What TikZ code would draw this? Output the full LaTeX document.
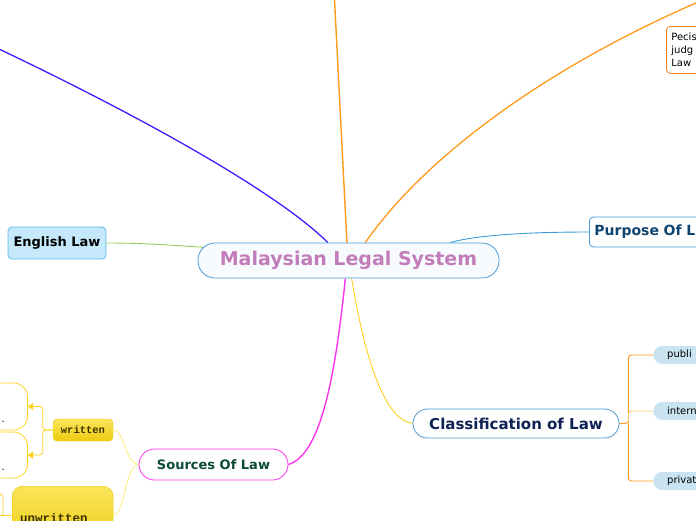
\documentclass[tikz,border=0pt]{standalone}
\usepackage{fontspec}
\setmainfont{DejaVu Sans}
\newfontfamily\slab{Liberation Mono}
\usepackage{xcolor}
\usetikzlibrary{arrows.meta,positioning,calc,backgrounds}
\definecolor{hubblue}{RGB}{74,154,212}
\definecolor{hubfill}{RGB}{248,251,254}
\definecolor{hubtext}{RGB}{194,124,186}
\definecolor{engfill}{RGB}{197,232,250}
\definecolor{engline}{RGB}{92,188,235}
\definecolor{purptext}{RGB}{14,68,112}
\definecolor{clstext}{RGB}{15,34,84}
\definecolor{srctext}{RGB}{12,74,60}
\definecolor{srcline}{RGB}{255,51,238}
\definecolor{linkorange}{RGB}{255,154,26}
\definecolor{boxorange}{RGB}{245,130,31}
\definecolor{paleorange}{RGB}{255,200,112}
\definecolor{leaffill}{RGB}{201,228,240}
\definecolor{ygold}{RGB}{255,210,26}
\definecolor{ypale}{RGB}{255,236,122}
\definecolor{ytop}{RGB}{250,229,90}
\definecolor{ybot}{RGB}{236,203,16}
\definecolor{ytext}{RGB}{61,51,0}
\definecolor{linkblue}{RGB}{58,31,255}
\definecolor{linkgreen}{RGB}{156,200,90}
\definecolor{linksky}{RGB}{58,154,217}

\begin{document}
\begin{tikzpicture}[x=1pt,y=-1pt,>=Stealth]
  \tikzstyle{hub}=[draw=hubblue,thick,fill=hubfill,rounded corners=17pt,minimum width=301pt,minimum height=35pt,inner sep=0pt,font=\fontsize{19}{22}\selectfont\bfseries,text=hubtext]
  \tikzstyle{topic}=[draw=hubblue,thick,fill=white,inner sep=0pt,font=\fontsize{13}{15}\selectfont\bfseries]
  \tikzstyle{leaf}=[fill=leaffill,rounded corners=9pt,minimum height=18pt,text width=60pt,inner xsep=14pt,inner ysep=0pt,align=left,anchor=west,font=\fontsize{10}{12}\selectfont]
  \tikzstyle{ybox}=[draw=ybot,top color=ytop,bottom color=ybot,rounded corners=4pt,inner sep=0pt,text=ytext,font=\slab\bfseries]
  \tikzstyle{wleaf}=[draw=ygold,thick,rounded corners=14pt,minimum width=80pt,anchor=east]
  \tikzstyle{ylink}=[ygold,thick,rounded corners=3pt]
  \useasboundingbox (0,0) rectangle (696,520);
  \clip (0,0) rectangle (696,520);

  % central topic
  \node[hub] (mls) at (348.5,260.5) {Malaysian Legal System};

  % main topics
  \node[topic,fill=engfill,draw=engline,rounded corners=4pt,minimum width=98pt,minimum height=32pt] (eng) at (57,243) {English Law};
  \node[topic,anchor=west,text=purptext,rounded corners=4pt,text width=120pt,inner xsep=5pt,align=left,minimum height=30pt,font=\fontsize{14}{16}\selectfont\bfseries] (purp) at (589,232) {Purpose Of L};
  \node[topic,text=clstext,rounded corners=14.5pt,minimum width=206pt,minimum height=29pt,font=\fontsize{15}{17}\selectfont\bfseries] (cls) at (516,423.5) {Classification of Law};
  \node[topic,draw=srcline,text=srctext,rounded corners=15.5pt,minimum width=149pt,minimum height=31pt] (src) at (213.5,464.5) {Sources Of Law};
  \node[draw=boxorange,thick,fill=white,rounded corners=4pt,anchor=north west,text width=50pt,inner xsep=5pt,inner ysep=4pt,minimum height=47pt,align=left,font=\fontsize{10}{13}\selectfont] (pec) at (666,26) {Pecis\\judg\\Law};

  % classification
  \node[leaf] (pub) at (653,355) {publi};
  \node[leaf] (int) at (653,411) {intern};
  \node[leaf] (pri) at (653,481) {privat};

  % sources
  \node[ybox,minimum width=60pt,minimum height=22pt,font=\fontsize{10.5}{12}\selectfont\slab\bfseries] (wr) at (83,430) {written};
  \node[ybox,anchor=north west,rounded corners=10pt,minimum width=101pt,minimum height=64pt,text width=85pt,inner xsep=8pt,align=left,font=\fontsize{12.5}{14}\selectfont\slab\bfseries] (uw) at (12,486) {unwritten};
  \node[wleaf,minimum height=47pt] (w1) at (28,406.5) {};
  \node[wleaf,minimum height=46pt] (w2) at (28,455) {};
  \node[anchor=base east,inner sep=0pt,font=\fontsize{10}{12}\selectfont] (w1txt) at ($(w1.south east)+(-23,-8)$) {.};
  \node[anchor=base east,inner sep=0pt,font=\fontsize{10}{12}\selectfont] (w2txt) at ($(w2.south east)+(-23,-8)$) {.};

  \coordinate (uwe) at ($(uw.north east)+(0,29)$);
  \coordinate (uww) at ($(uw.north west)+(0,29)$);
  \coordinate (ubr) at ($(uw.north west)+(-9,29)$);
  \coordinate (uwk) at (-10,494);
  \coordinate (uwo) at (-10,515);
  \coordinate (far1) at (-20,40);
  \coordinate (far2) at (334,-10);
  \coordinate (far3) at (710,-3);

  \begin{scope}[on background layer]
    % from the central topic
    \draw[linkblue,line width=1.3pt] (far1) .. controls (150,120) and (280,195) .. (mls.139);
    \draw[linkorange,line width=1.4pt] (far2) -- (mls.95);
    \draw[linkorange,line width=1.3pt] (far3) .. controls (560,60) and (430,150) .. (mls.47);
    \draw[linksky,line width=0.9pt] (mls.10.5) .. controls (480,234) and (540,232) .. (purp.west);
    \draw[linkgreen,line width=0.9pt] (eng.east) .. controls (150,243) and (180,246) .. ($(mls.west)+(10,-13)$);
    \draw[srcline,line width=1.4pt] (mls.-100) .. controls (335,380) and (320,455) .. (src.east);
    \draw[ygold,line width=0.9pt] (mls.-80) .. controls (365,360) and (385,420) .. (cls.west);
    % classification
    \draw[linkorange,line width=0.9pt,rounded corners=3pt] (cls.east) -- ++(9,0) coordinate (cb) |- (pub.west);
    \draw[linkorange,line width=0.9pt,rounded corners=3pt] (cb) |- (pri.west);
    \draw[paleorange,thick,rounded corners=3pt] (cb) |- (int.west);
    % sources
    \draw[ypale,line width=0.8pt] (src.west) .. controls (125,464.5) and (125,430) .. (wr.east);
    \draw[ypale,line width=0.8pt] (src.west) .. controls (125,464.5) and (125,515) .. (uwe);
    \draw[ylink,-{Triangle[length=5pt,width=7pt]}] (wr.west) -- ++(-10,0) |- (w1.east);
    \draw[ylink,-{Triangle[length=5pt,width=7pt]}] (wr.west) -- ++(-10,0) |- (w2.east);
    \draw[ylink] (uww) -- (uwo);
    \draw[ylink] (ubr) |- (uwk);
  \end{scope}
\end{tikzpicture}
\end{document}
